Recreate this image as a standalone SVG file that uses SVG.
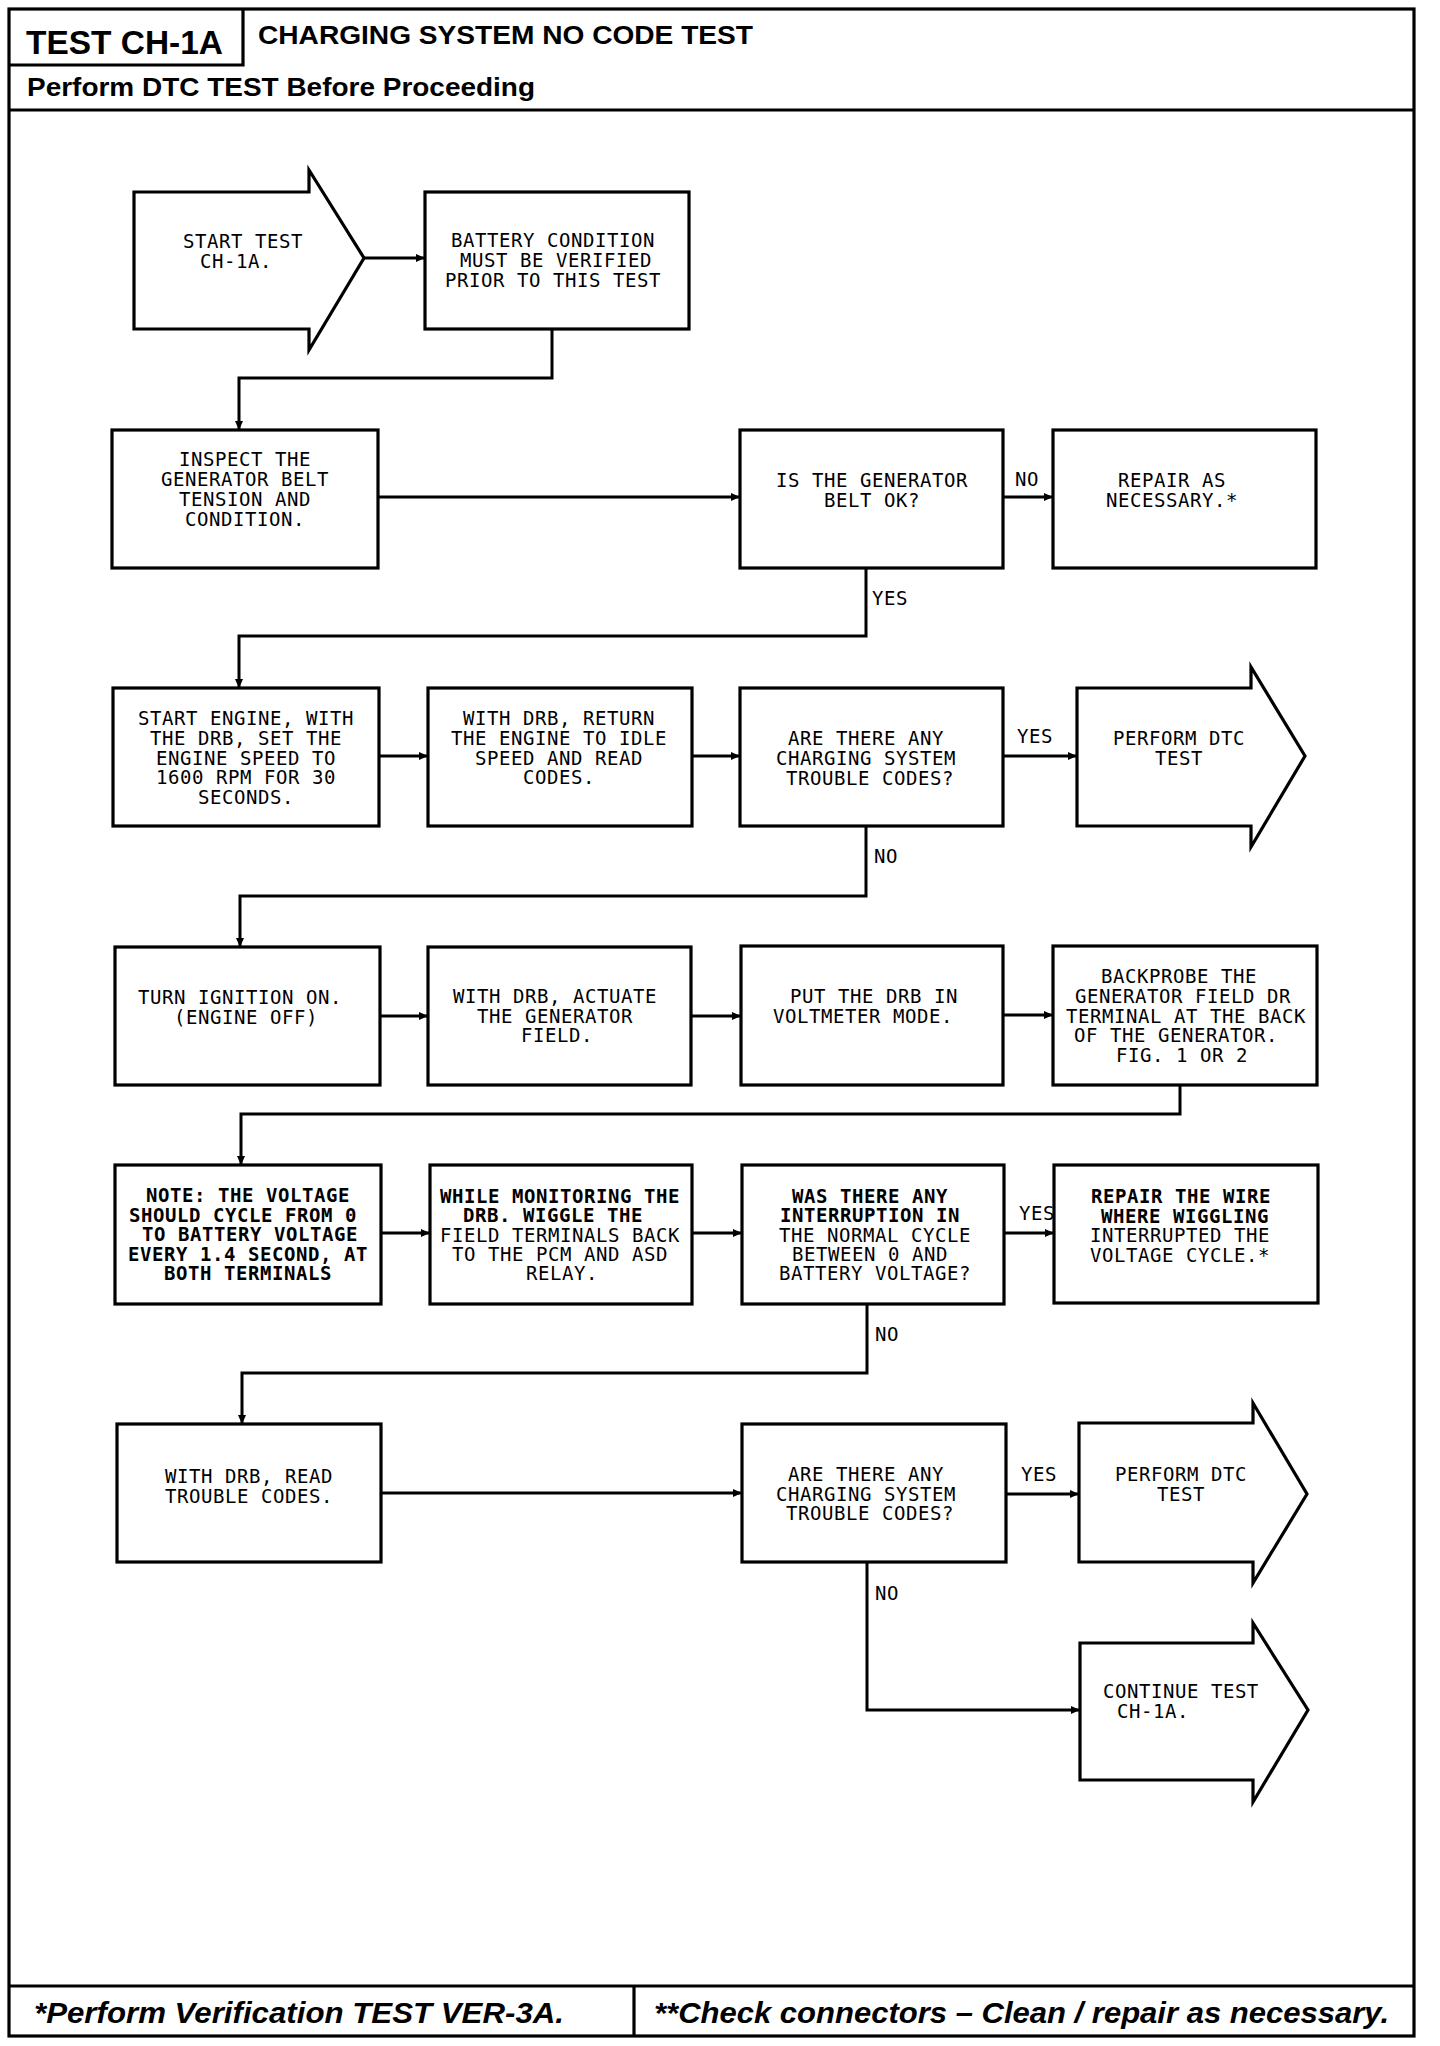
<svg xmlns="http://www.w3.org/2000/svg" width="1440" height="2046" viewBox="0 0 1440 2046">
<style>
.bx{fill:#fff;stroke:#000;stroke-width:3.2}
.fr{fill:none;stroke:#000;stroke-width:3.2}
.cn{fill:none;stroke:#000;stroke-width:3;marker-end:url(#ah)}
.t{font-family:"DejaVu Sans Mono","Liberation Mono",monospace;font-size:19px;letter-spacing:0.55px;fill:#000;text-anchor:middle}
.b{font-weight:bold}
.l{font-family:"DejaVu Sans Mono","Liberation Mono",monospace;font-size:19px;letter-spacing:0.55px;fill:#000}
.h{font-family:"Liberation Sans",Arial,sans-serif;font-weight:bold;fill:#000}
.f{font-family:"Liberation Sans",Arial,sans-serif;font-weight:bold;font-style:italic;fill:#000}
</style>
<defs>
<marker id="ah" markerUnits="userSpaceOnUse" markerWidth="10" markerHeight="10" refX="9" refY="5" orient="auto">
<path d="M0,1 L9,5 L0,9 Z" fill="#000"/>
</marker>
</defs>
<rect fill="#fff" x="0" y="0" width="1440" height="2046"/>
<g id="frame">
<rect class="fr" x="9" y="9" width="1405" height="2027"/>
<path class="fr" d="M243,9 V65 H9"/>
<path class="fr" d="M9,110 H1414"/>
<path class="fr" d="M9,1986 H1414 M634,1986 V2036"/>
<text class="h" x="26" y="54" font-size="34" textLength="197" lengthAdjust="spacingAndGlyphs">TEST CH-1A</text>
<text class="h" x="258" y="44" font-size="26" textLength="495" lengthAdjust="spacingAndGlyphs">CHARGING SYSTEM NO CODE TEST</text>
<text class="h" x="27" y="96" font-size="26" textLength="508" lengthAdjust="spacingAndGlyphs">Perform DTC TEST Before Proceeding</text>
<text class="f" x="34" y="2023" font-size="30" textLength="530" lengthAdjust="spacingAndGlyphs">*Perform Verification TEST VER-3A.</text>
<text class="f" x="654" y="2023" font-size="30" textLength="735" lengthAdjust="spacingAndGlyphs">**Check connectors – Clean / repair as necessary.</text>
</g>
<g id="connectors">
<path class="cn" d="M364,258 H425"/>
<path class="cn" d="M552,329 V378 H239 V430"/>
<path class="cn" d="M378,497 H740"/>
<path class="cn" d="M1003,497 H1053"/>
<path class="cn" d="M866,568 V636 H239 V688"/>
<path class="cn" d="M379,756 H428"/>
<path class="cn" d="M692,756 H740"/>
<path class="cn" d="M1003,756 H1077"/>
<path class="cn" d="M866,826 V896 H240 V947"/>
<path class="cn" d="M380,1016 H428"/>
<path class="cn" d="M691,1016 H741"/>
<path class="cn" d="M1003,1015 H1053"/>
<path class="cn" d="M1180,1085 V1114 H241 V1165"/>
<path class="cn" d="M381,1233 H430"/>
<path class="cn" d="M692,1233 H742"/>
<path class="cn" d="M1004,1233 H1054"/>
<path class="cn" d="M867,1304 V1373 H242 V1424"/>
<path class="cn" d="M381,1493 H742"/>
<path class="cn" d="M1006,1494 H1079"/>
<path class="cn" d="M867,1562 V1710 H1080"/>
<text class="l" x="1015" y="486">NO</text>
<text class="l" x="872" y="605">YES</text>
<text class="l" x="1017" y="743">YES</text>
<text class="l" x="874" y="863">NO</text>
<text class="l" x="1019" y="1220">YES</text>
<text class="l" x="875" y="1341">NO</text>
<text class="l" x="1021" y="1481">YES</text>
<text class="l" x="875" y="1600">NO</text>
</g>
<g id="start">
<path class="bx" d="M134,192 H309 V170 L364,258 L309,350 V329 H134 Z"/>
<text class="t" x="243" y="248">START TEST</text>
<text class="t" x="236" y="268">CH-1A.</text>
</g>
<g id="battery">
<rect class="bx" x="425" y="192" width="264" height="137"/>
<text class="t" x="553" y="247">BATTERY CONDITION</text>
<text class="t" x="556" y="267">MUST BE VERIFIED</text>
<text class="t" x="553" y="287">PRIOR TO THIS TEST</text>
</g>
<g id="inspect">
<rect class="bx" x="112" y="430" width="266" height="138"/>
<text class="t" x="245" y="466">INSPECT THE</text>
<text class="t" x="245" y="486">GENERATOR BELT</text>
<text class="t" x="245" y="506">TENSION AND</text>
<text class="t" x="245" y="526">CONDITION.</text>
</g>
<g id="q1">
<rect class="bx" x="740" y="430" width="263" height="138"/>
<text class="t" x="872" y="487">IS THE GENERATOR</text>
<text class="t" x="872" y="507">BELT OK?</text>
</g>
<g id="repair1">
<rect class="bx" x="1053" y="430" width="263" height="138"/>
<text class="t" x="1172" y="487">REPAIR AS</text>
<text class="t" x="1172" y="507">NECESSARY.*</text>
</g>
<g id="startengine">
<rect class="bx" x="113" y="688" width="266" height="138"/>
<text class="t" x="246" y="725">START ENGINE, WITH</text>
<text class="t" x="246" y="744.8">THE DRB, SET THE</text>
<text class="t" x="246" y="764.6">ENGINE SPEED TO</text>
<text class="t" x="246" y="784.4">1600 RPM FOR 30</text>
<text class="t" x="246" y="804.2">SECONDS.</text>
</g>
<g id="drbreturn">
<rect class="bx" x="428" y="688" width="264" height="138"/>
<text class="t" x="559" y="725">WITH DRB, RETURN</text>
<text class="t" x="559" y="744.8">THE ENGINE TO IDLE</text>
<text class="t" x="559" y="764.6">SPEED AND READ</text>
<text class="t" x="559" y="784.4">CODES.</text>
</g>
<g id="q2">
<rect class="bx" x="740" y="688" width="263" height="138"/>
<text class="t" x="866" y="745">ARE THERE ANY</text>
<text class="t" x="866" y="765">CHARGING SYSTEM</text>
<text class="t" x="870" y="785">TROUBLE CODES?</text>
</g>
<g id="dtc1">
<path class="bx" d="M1077,688 H1251 V667 L1305,756 L1251,847 V826 H1077 Z"/>
<text class="t" x="1179" y="745">PERFORM DTC</text>
<text class="t" x="1179" y="765">TEST</text>
</g>
<g id="ignition">
<rect class="bx" x="115" y="947" width="265" height="138"/>
<text class="t" x="240" y="1004">TURN IGNITION ON.</text>
<text class="t" x="246" y="1024">(ENGINE OFF)</text>
</g>
<g id="actuate">
<rect class="bx" x="428" y="947" width="263" height="138"/>
<text class="t" x="555" y="1003">WITH DRB, ACTUATE</text>
<text class="t" x="555" y="1022.5">THE GENERATOR</text>
<text class="t" x="557" y="1042">FIELD.</text>
</g>
<g id="voltmeter">
<rect class="bx" x="741" y="946" width="262" height="139"/>
<text class="t" x="874" y="1003">PUT THE DRB IN</text>
<text class="t" x="863" y="1023">VOLTMETER MODE.</text>
</g>
<g id="backprobe">
<rect class="bx" x="1053" y="946" width="264" height="139"/>
<text class="t" x="1179" y="983">BACKPROBE THE</text>
<text class="t" x="1183" y="1002.8">GENERATOR FIELD DR</text>
<text class="t" x="1186" y="1022.6">TERMINAL AT THE BACK</text>
<text class="t" x="1176" y="1042.4">OF THE GENERATOR.</text>
<text class="t" x="1182" y="1062.2">FIG. 1 OR 2</text>
</g>
<g id="note">
<rect class="bx" x="115" y="1165" width="266" height="139"/>
<text class="t b" x="248" y="1202">NOTE: THE VOLTAGE</text>
<text class="t b" x="243" y="1221.5">SHOULD CYCLE FROM 0</text>
<text class="t b" x="250" y="1241">TO BATTERY VOLTAGE</text>
<text class="t b" x="248" y="1260.5">EVERY 1.4 SECOND, AT</text>
<text class="t b" x="248" y="1280">BOTH TERMINALS</text>
</g>
<g id="wiggle">
<rect class="bx" x="430" y="1165" width="262" height="139"/>
<text class="t b" x="560" y="1203">WHILE MONITORING THE</text>
<text class="t b" x="553" y="1222.3">DRB. WIGGLE THE</text>
<text class="t" x="560" y="1241.6">FIELD TERMINALS BACK</text>
<text class="t" x="560" y="1260.9">TO THE PCM AND ASD</text>
<text class="t" x="562" y="1280.2">RELAY.</text>
</g>
<g id="q3">
<rect class="bx" x="742" y="1165" width="262" height="139"/>
<text class="t b" x="870" y="1203">WAS THERE ANY</text>
<text class="t b" x="870" y="1222.3">INTERRUPTION IN</text>
<text class="t" x="875" y="1241.6">THE NORMAL CYCLE</text>
<text class="t" x="870" y="1260.9">BETWEEN 0 AND</text>
<text class="t" x="875" y="1280.2">BATTERY VOLTAGE?</text>
</g>
<g id="repair2">
<rect class="bx" x="1054" y="1165" width="264" height="138"/>
<text class="t b" x="1181" y="1203">REPAIR THE WIRE</text>
<text class="t b" x="1185" y="1222.5">WHERE WIGGLING</text>
<text class="t" x="1180" y="1242">INTERRUPTED THE</text>
<text class="t" x="1180" y="1261.5">VOLTAGE CYCLE.*</text>
</g>
<g id="readcodes">
<rect class="bx" x="117" y="1424" width="264" height="138"/>
<text class="t" x="249" y="1483">WITH DRB, READ</text>
<text class="t" x="249" y="1503">TROUBLE CODES.</text>
</g>
<g id="q4">
<rect class="bx" x="742" y="1424" width="264" height="138"/>
<text class="t" x="866" y="1481">ARE THERE ANY</text>
<text class="t" x="866" y="1500.5">CHARGING SYSTEM</text>
<text class="t" x="870" y="1520">TROUBLE CODES?</text>
</g>
<g id="dtc2">
<path class="bx" d="M1079,1423 H1253 V1403 L1307,1494 L1253,1583 V1562 H1079 Z"/>
<text class="t" x="1181" y="1481">PERFORM DTC</text>
<text class="t" x="1181" y="1501">TEST</text>
</g>
<g id="continue">
<path class="bx" d="M1080,1643 H1253 V1623 L1308,1710 L1253,1802 V1780 H1080 Z"/>
<text class="l" x="1103" y="1698">CONTINUE TEST</text>
<text class="l" x="1117" y="1718">CH-1A.</text>
</g>
</svg>
